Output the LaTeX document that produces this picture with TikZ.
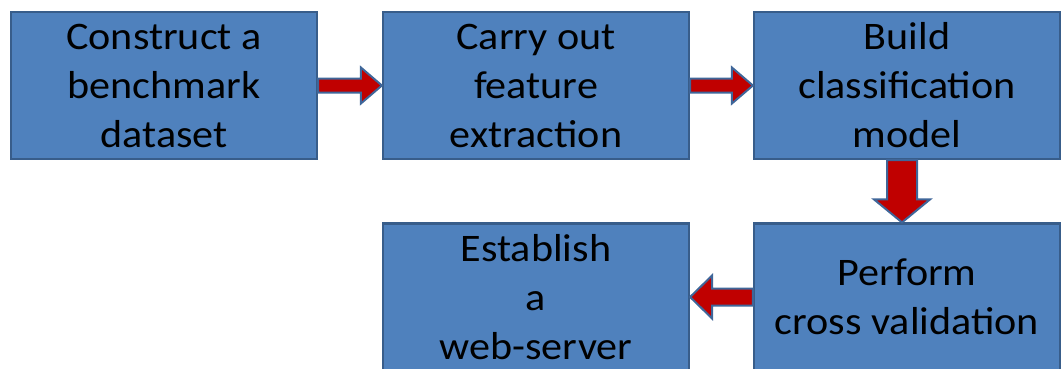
\documentclass[tikz,border=0pt]{standalone}
\usepackage{fontspec}
\setmainfont{Carlito}[FakeStretch=1.08]
\usetikzlibrary{calc}
\definecolor{boxfill}{HTML}{4F81BD}
\definecolor{boxline}{HTML}{385D8A}
\definecolor{arrowfill}{HTML}{C00000}
\definecolor{arrowline}{HTML}{3F6699}
\tikzset{
  stepbox/.style={draw=boxline, fill=boxfill, line width=2.2pt,
    minimum width=306pt, minimum height=147pt, inner sep=0pt,
    align=center, font=\fontsize{39}{49}\selectfont, text=black},
  blockarrow/.style={draw=arrowline, fill=arrowfill, line width=2pt, line join=miter}
}
\begin{document}
\begin{tikzpicture}[x=1pt,y=1pt]
\useasboundingbox (0,0) rectangle (1062,368);
\begin{scope}
\clip (0,0) rectangle (1062,368);
\node[stepbox] (dataset) at (164,282.5) {Construct a\\benchmark\\dataset};
\node[stepbox] (feature) at (536,282.5) {Carry out\\feature\\extraction};
\node[stepbox] (model)   at (907,282.5) {Build\\classification\\model};
\node[stepbox] (cv)      at (907,71) {Perform\\cross validation};
\node[stepbox] (server)  at (536,71) {Establish\\a\\web-server};

% right-pointing block arrows between the top row boxes
\foreach \a/\b in {dataset/feature, feature/model}{
  \draw[blockarrow]
    ($(\a.east)+(0,7)$) -- ($(\b.west)+(-21,7)$) -- ($(\b.west)+(-21,18)$)
    -- (\b.west) -- ($(\b.west)+(-21,-18)$) -- ($(\b.west)+(-21,-7)$)
    -- ($(\a.east)+(0,-7)$) -- cycle;
}
% downward block arrow
\draw[blockarrow]
  ($(model.south)+(-20,0)$) -- ($(cv.north)+(-20,23)$) -- ($(cv.north)+(-33,23)$)
  -- ($(cv.north)+(-5,0)$) -- ($(cv.north)+(23,23)$) -- ($(cv.north)+(10,23)$)
  -- ($(model.south)+(10,0)$) -- cycle;
% left-pointing block arrow
\draw[blockarrow]
  ($(cv.west)+(0,8.5)$) -- ($(server.east)+(22,8.5)$) -- ($(server.east)+(22,21.5)$)
  -- (server.east) -- ($(server.east)+(22,-21.5)$) -- ($(server.east)+(22,-8.5)$)
  -- ($(cv.west)+(0,-8.5)$) -- cycle;
\end{scope}
\end{tikzpicture}
\end{document}
